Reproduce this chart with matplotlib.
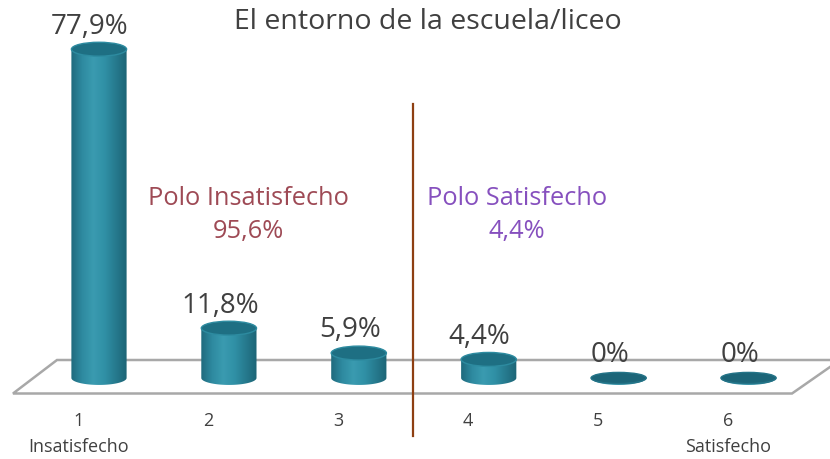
import numpy as np
import matplotlib
matplotlib.use("Agg")
import matplotlib.pyplot as plt
from matplotlib.patches import Ellipse, Polygon, PathPatch
from matplotlib.path import Path
from matplotlib.colors import LinearSegmentedColormap

# datos
categorias = [1, 2, 3, 4, 5, 6]
etiquetas_x = ["1\nInsatisfecho", "2", "3", "4", "5", "6\nSatisfecho"]
valores = [77.9, 11.8, 5.9, 4.4, 0.0, 0.0]
etiquetas_valor = ["77,9%", "11,8%", "5,9%", "4,4%", "0%", "0%"]
titulo = "El entorno de la escuela/liceo"
polo_insat = "Polo Insatisfecho\n95,6%"
polo_sat = "Polo Satisfecho\n4,4%"

plt.rcParams['font.family'] = ['Open Sans', 'DejaVu Sans']

W, H = 830, 460
fig = plt.figure(figsize=(W / 100, H / 100), dpi=100)
ax = fig.add_axes([0, 0, 1, 1])
ax.set_xlim(0.238, 6.627)
ax.set_ylim(-19.2, 89.8)
ax.axis('off')


def px(x, y):
    # pixel de la imagen -> fracción de ejes
    return (x / W, 1 - y / H)


# suelo 3D
suelo = Polygon([px(57, 361), px(840, 361), px(792, 394.5), px(13, 394.5)],
                closed=True, transform=ax.transAxes, facecolor='white',
                edgecolor='#A8A8A8', lw=1.8, zorder=1)
ax.add_patch(suelo)

# cilindros
ancho = 0.425
alto_elipse = 3.3
cmap = LinearSegmentedColormap.from_list(
    'cil', ['#1F6A7D', '#2E8AA0', '#3A9BB0', '#3090A6', '#267A8E', '#1D6576'])
grad = np.linspace(0, 1, 256).reshape(1, -1)

for x, v in zip(categorias, valores):
    x0, x1 = x - ancho / 2, x + ancho / 2
    t = np.linspace(np.pi, 2 * np.pi, 60)
    arco = np.column_stack([x + ancho / 2 * np.cos(t), alto_elipse / 2 * np.sin(t)])
    verts = np.vstack([[[x0, v]], arco, [[x1, v]], [[x0, v]]])
    codes = [Path.MOVETO] + [Path.LINETO] * (len(verts) - 2) + [Path.CLOSEPOLY]
    cuerpo = PathPatch(Path(verts, codes), facecolor='none', edgecolor='none')
    ax.add_patch(cuerpo)
    im = ax.imshow(grad, cmap=cmap, aspect='auto', zorder=3,
                   extent=[x0, x1, -alto_elipse, v + 0.01])
    im.set_clip_path(cuerpo)
    if v > 0:
        tapa = Ellipse((x, v), ancho, alto_elipse, facecolor='#1E6F83',
                       edgecolor='#2D8BA0', lw=1.0, zorder=4)
    else:
        # disco plano para 0%
        tapa = Ellipse((x, v), ancho, alto_elipse * 0.8, facecolor='#1C6578',
                       edgecolor='#247488', lw=1.0, zorder=4)
    ax.add_patch(tapa)

for x, v, lab in zip(categorias, valores, etiquetas_valor):
    ax.annotate(lab, (x, v), xytext=(-6.5, 17), textcoords='offset points',
                ha='center', va='center', fontsize=20, color='#404040', zorder=5)

# eje x
for x, lab in zip(categorias, etiquetas_x):
    partes = lab.split("\n")
    ax.annotate(partes[0], (x, 0), xytext=(-15, -30), textcoords='offset points',
                ha='center', va='center', fontsize=13, color='#404040')
    if len(partes) > 1:
        ax.annotate(partes[1], (x, 0), xytext=(-15, -49), textcoords='offset points',
                    ha='center', va='center', fontsize=13, color='#404040')

# línea divisoria
ax.plot([413 / W, 413 / W], [1 - 437 / H, 1 - 105 / H], transform=ax.transAxes,
        color='#8E3F12', lw=1.6, zorder=6)

ax.text(428 / W, 1 - 22 / H, titulo, transform=ax.transAxes, ha='center', va='center',
        fontsize=20.5, color='#404040')
ax.text(248 / W, 1 - 215 / H, polo_insat, transform=ax.transAxes, ha='center', va='center',
        fontsize=18.3, color='#9E4A55', linespacing=1.4)
ax.text(517 / W, 1 - 215 / H, polo_sat, transform=ax.transAxes, ha='center', va='center',
        fontsize=18.3, color='#8650BE', linespacing=1.4)

fig.savefig("out.png", dpi=100)
